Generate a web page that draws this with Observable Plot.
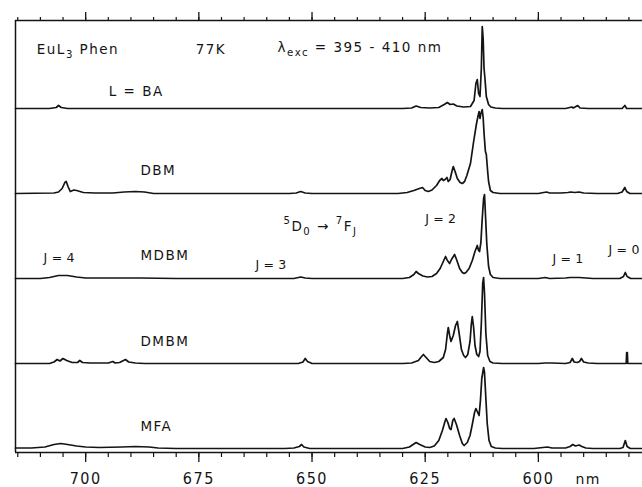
<!DOCTYPE html>
<html>
<head>
<meta charset="utf-8">
<script src="https://cdn.jsdelivr.net/npm/d3@7"></script>
<script src="https://cdn.jsdelivr.net/npm/@observablehq/plot@0.6"></script>
<style>
  html, body { margin: 0; padding: 0; background: #fff; }
  #chart { width: 642px; height: 487px; }
  .small-labels text { letter-spacing: 0.2px; }
</style>
</head>
<body>
<div id="chart"></div>
<script>
// Spectrum names, top to bottom
const seriesNames = ["BA", "DBM", "MDBM", "DMBM", "MFA"];

// Each spectrum: [wavelength nm, relative intensity] (left to right)
const specBA = [[715.5,0],[708,0],[706.5,1],[706,3],[705.4,1],[704,0],[690,0],[630,0],[628,0.5],[627,2.5],[626,1],[624,0.5],[622,1],[620.8,4],[620.1,6],[619.5,4],[618.8,4.5],[618,2.5],[616.5,1.5],[615,2],[614.2,8],[613.8,25],[613.5,29],[613.2,15],[612.9,12],[612.6,40],[612.4,82],[612.2,70],[612,40],[611.8,30],[611.5,12],[611,4],[610.5,1.5],[609.5,0.5],[608,0],[594,0],[592.6,1.5],[592.3,0.5],[591.3,3],[590.8,0.5],[589,0],[581.5,0],[580.9,3],[580.5,0],[577,0]];
const specDBM = [[715.5,0],[707,0.5],[706,1.5],[705.2,5],[704.6,11],[704.3,12],[703.9,7],[703.4,2],[702.6,3.5],[702,3],[700.5,1],[698,0.5],[694,0.5],[691.5,1.5],[689,2],[687,1.5],[685,0],[655,0],[653.5,0.5],[652.5,2],[651.5,0.5],[650,0],[631,0],[629,1],[627.5,3],[626.3,5],[625.6,6],[625,3],[624.3,2],[623.5,3.5],[622.5,8],[621.8,13],[621.3,15],[621,13],[620.6,14],[620.2,16],[619.9,12],[619.5,14],[619.1,22],[618.8,27],[618.4,22],[617.9,15],[617.3,11],[616.8,10],[616.3,12],[615.8,18],[615,30],[614.3,52],[613.7,69],[613.4,76],[613.1,82],[612.9,75],[612.7,80],[612.4,84],[612.2,76],[612,60],[611.7,42],[611.5,39],[611.2,22],[611,12],[610.6,3],[610,1],[608.5,0],[600,0],[598.8,1],[598.2,1.5],[597.5,0.5],[595,0.5],[593.5,1],[592.8,1.5],[592,1],[591,1.5],[590,0.5],[587,0],[582.5,0],[581.5,1.5],[580.9,6],[580.5,2],[579.8,0],[577,0]];
const specMDBM = [[715.5,0],[710,0],[708,1],[706,3],[704,3],[702,1.5],[700,0.5],[692,0.5],[688,0.5],[680,0],[654,0],[652.5,1.5],[651.5,0.5],[650,0],[630,0],[628.5,1],[627.5,4],[627,7],[626.5,5],[625.5,2.5],[624.5,1.5],[623.5,2],[622.5,5],[621.7,10],[621,17],[620.5,22],[620.1,18],[619.6,15],[619.2,19],[618.5,24],[618,18],[617.4,10],[616.8,6],[616.4,5],[616,6],[615.3,10],[614.6,18],[614,27],[613.5,33],[613.2,28],[613,27],[612.7,36],[612.4,60],[612.1,80],[611.9,84],[611.7,65],[611.4,35],[611,12],[610.6,4],[610,1],[608.5,0],[600,0],[598.5,1],[597.5,0],[594,0.5],[593,1],[591,1],[589.5,0.5],[588,0],[582,0],[581.2,2],[580.8,6],[580.4,2],[579.6,0],[577,0]];
const specDMBM = [[715.5,0],[708,0],[707,1.5],[706.3,4],[705.7,2.5],[705,5],[704.2,3],[703,1],[701.8,1],[701.3,3],[700.7,1],[699,0.5],[695,0.5],[694,2],[693.5,0.5],[692.5,1],[691.2,4],[690.5,1.5],[689,0.5],[687,0],[653,0],[652,1.5],[651.5,5],[651,2],[650,0],[630,0],[628,0.5],[626.5,3],[625.8,7],[625.4,9],[624.8,6],[624,2],[623,1],[622,2],[621,6],[620.5,14],[620.1,30],[619.9,36],[619.6,28],[619.3,22],[618.8,28],[618.3,38],[617.9,42],[617.5,30],[617,14],[616.5,8],[616.1,6],[615.6,9],[615.1,22],[614.8,40],[614.6,47],[614.3,36],[614,18],[613.6,9],[613.2,7],[612.9,12],[612.6,40],[612.3,80],[612.1,86],[611.9,70],[611.6,30],[611.2,8],[610.7,2],[610,0.5],[608,0],[600,0],[598.5,0.5],[597,0.5],[594,0],[593,1],[592.5,5],[592.1,1.5],[591.4,1],[590.9,2],[590.5,5],[590,1.5],[589,0.5],[587,0],[581,0],[580.6,0],[580.5,11],[580.35,11],[580.25,0],[577,0]];
const specMFA = [[715.5,0.5],[712,0.5],[709,1.5],[707,4],[705.5,5],[704,4],[702,2.5],[700,1.5],[697,1],[692,1.5],[689,2],[686,1.5],[684,0.5],[680,0],[656,0],[654,0.5],[652.8,2],[652.3,4],[651.8,1.5],[650.5,0],[630,0],[628.5,1.5],[627.5,4.5],[627,6],[626.2,4],[625,1.5],[624,1],[623,2.5],[622,8],[621.2,18],[620.7,26],[620.4,30],[620,26],[619.6,20],[619.3,19],[618.9,28],[618.6,30],[618.1,24],[617.4,13],[616.8,5],[616.4,3],[615.7,6],[615.1,13],[614.6,24],[614.1,36],[613.8,40],[613.4,36],[613.1,33],[612.8,48],[612.5,70],[612.1,81],[611.9,76],[611.6,50],[611.3,25],[610.9,8],[610.4,2],[609.5,0.5],[608,0],[601,0],[599,1],[598,1.5],[597,0.5],[594,0.5],[593,2],[592.4,4],[591.8,2.5],[591,3.5],[590.4,2],[589.5,0.5],[588,0],[582,0],[581.3,1],[580.8,8],[580.4,2],[579.7,0],[577,0]];
const spectra = [specBA, specDBM, specMDBM, specDMBM, specMFA];

// Axis ticks (nm)
const majorTicks = [700, 675, 650, 625, 600];
const minorTicks = d3.range(580, 716, 5);

// Text annotations in data coordinates (nm, stacked intensity)
const bigLabels = [
  {t: "EuL_{3} Phen", x: 710.8, y: 395},
  {t: "77K", x: 675.7, y: 395},
  {t: "λ_{exc} = 395 - 410 nm", x: 657.6, y: 397},
  {t: "L = BA", x: 694.9, y: 353},
  {t: "DBM", x: 687.9, y: 274},
  {t: "^{5}D_{0} → ^{7}F_{J}", x: 656.3, y: 218},
  {t: "MDBM", x: 687.9, y: 189},
  {t: "DMBM", x: 687.9, y: 103},
  {t: "MFA", x: 687.9, y: 18}
];
const smallLabels = [
  {t: "J = 4", x: 709.3, y: 187},
  {t: "J = 3", x: 662.5, y: 180},
  {t: "J = 2", x: 625.0, y: 226},
  {t: "J = 1", x: 596.9, y: 186},
  {t: "J = 0", x: 584.5, y: 195}
];
const unitLabel = [{t: "nm", x: 591.8, y: -35}];

const STEP = 85;
const rows = spectra.flatMap((s, i) =>
  s.map(([nm, v]) => ({name: seriesNames[i], nm, y: v + (seriesNames.length - 1 - i) * STEP})));

const ink = "#141414";
const plot = Plot.plot({
  width: 642,
  height: 487,
  marginLeft: 15,
  marginRight: 0,
  marginTop: 20,
  marginBottom: 35,
  x: {domain: [715.5, 577]},
  y: {domain: [-4, 428], axis: null},
  style: {fontFamily: "'DejaVu Sans', sans-serif", fontSize: "13px", background: "#fff", color: ink, letterSpacing: "1.5px"},
  marks: [
    Plot.ruleY([-4, 428], {stroke: ink, strokeWidth: 1.3}),
    Plot.ruleX([715.5], {stroke: ink, strokeWidth: 1.5}),
    Plot.axisX({anchor: "top", ticks: minorTicks, tickSize: 4, tickFormat: () => "", stroke: ink, strokeWidth: 1.2}),
    Plot.axisX({anchor: "top", ticks: majorTicks, tickSize: 9, tickFormat: () => "", stroke: ink, strokeWidth: 1.3}),
    Plot.axisX({anchor: "bottom", ticks: minorTicks, tickSize: 5, tickFormat: () => "", stroke: ink, strokeWidth: 1.2}),
    Plot.axisX({anchor: "bottom", ticks: majorTicks, tickSize: 10, tickPadding: 10, stroke: ink, strokeWidth: 1.3,
      fontSize: 16, fontFamily: "'DejaVu Sans Condensed', 'DejaVu Sans', sans-serif", fill: ink}),
    Plot.line(rows, {x: "nm", y: "y", z: "name", stroke: ink, strokeWidth: 1.7, strokeLinejoin: "round"}),
    Plot.text(bigLabels, {x: "x", y: "y", text: "t", textAnchor: "start", lineAnchor: "bottom", fontSize: 13.5, fill: ink}),
    Plot.text(smallLabels, {x: "x", y: "y", text: "t", textAnchor: "start", lineAnchor: "bottom", fontSize: 12.5, fill: ink, className: "small-labels"}),
    Plot.text(unitLabel, {x: "x", y: "y", text: "t", textAnchor: "start", lineAnchor: "bottom", fontSize: 14, fill: ink})
  ]
});

// Render sub/superscript markup (_{..} and ^{..}) as tspans
d3.select(plot).selectAll("text").each(function() {
  const s = this.textContent;
  if (!/[_^]\{/.test(s)) return;
  const el = d3.select(this);
  el.text("");
  const re = /([_^])\{([^}]*)\}|([^_^]+)/g;
  let m, cur = 0;
  while ((m = re.exec(s))) {
    let target = 0, txt, small = false;
    if (m[1]) { target = m[1] === "_" ? 0.35 : -0.45; txt = m[2]; small = true; }
    else { txt = m[3]; }
    const dy = target - cur;
    const ts = el.append("tspan").text(txt);
    if (dy !== 0) ts.attr("dy", (small ? dy / 0.75 : dy) + "em");
    if (small) ts.attr("font-size", "75%");
    cur = target;
  }
});

document.getElementById("chart").appendChild(plot);
</script>
</body>
</html>
